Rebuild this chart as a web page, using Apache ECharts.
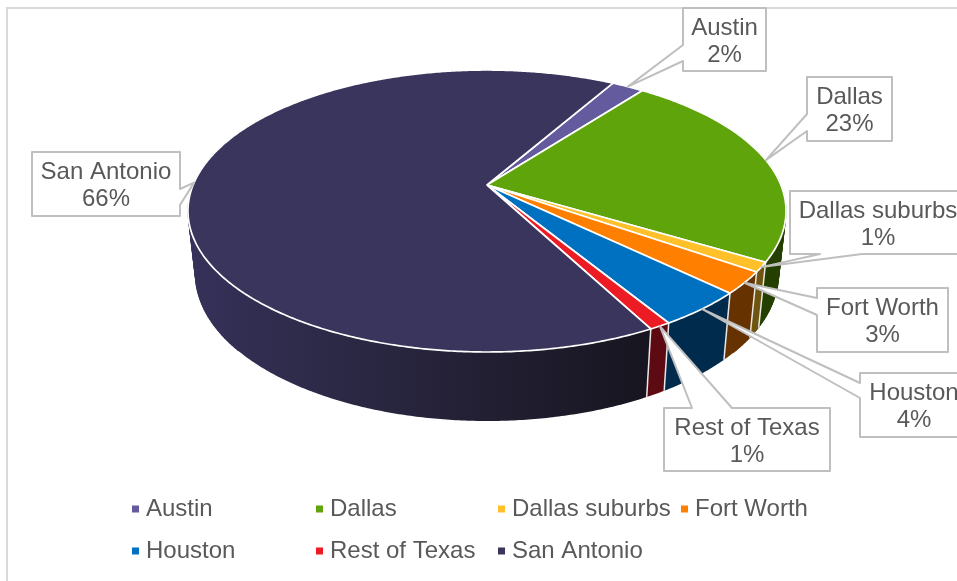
<!DOCTYPE html>
<html>
<head>
<meta charset="utf-8">
<title>Pie</title>
<script src="https://cdn.jsdelivr.net/npm/echarts@6/dist/echarts.min.js"></script>
<style>
html,body{margin:0;padding:0;background:#fff;}
#main{width:957px;height:581px;}
</style>
</head>
<body>
<div id="main"></div>
<script>
//values, the labels show them rounded
var names=["Austin","Dallas","Dallas suburbs","Fort Worth","Houston","Rest of Texas","San Antonio"];
var values=[2.1,23.2,1.1,2.5,4.1,1.0,66.0];
var topColors=["#645a9e","#5fa40a","#ffc02a","#ff8000","#0070c0","#ed1c24","#3a355c"];
var sideColors=["#2f2a4d","#254000","#6e5510","#663300","#002b4d","#5e0a12",null];

//first slice starts this many degrees clockwise from north
var startAngle=29.8;

//perspective of the disc
var cx=487,cy=185,rx=293.9,ry=136.2,persp=0.1844;
//bottom rim relative to the top rim
var bottomX=0.975,bottomY=1.04,frontTop=352,frontBottom=421;
//angle ranges where the wall folds round the edge of the disc
var foldRanges=[[60,130],[230,300]];

//callout boxes: x,y,w,h, side the pointer leaves from, notch start and end along it
var boxes=[
	[683,8,83,63,"left",37,53],
	[807,77,85,64,"left",37,54],
	[790,191,177,63,"bottom",30,72],
	[817,288,131,64,"left",10,27],
	[860,373,110,64,"left",10,25],
	[664,408,166,63,"top",28,68],
	[32,152,148,64,"right",37,53]
];

var total=values.reduce(function(a,b){return a+b;},0);

function rim(deg){
	var t=deg*Math.PI/180;
	var X=Math.sin(t),Y=-Math.cos(t);
	var w=1/(1-persp*Y);
	return [cx+rx*X*w,cy+ry*Y*w];
}
function rimBottom(deg){
	var p=rim(deg);
	return [cx+bottomX*(p[0]-cx),frontBottom+bottomY*(p[1]-frontTop)];
}
function arc(fn,a0,a1){
	var pts=[];
	var n=Math.max(2,Math.ceil((a1-a0)/0.5));
	for(var i=0;i<=n;i++){
		pts.push(fn(a0+(a1-a0)*i/n));
	}
	return pts;
}
function sliceStart(i){
	var s=0;
	for(var k=0;k<i;k++){s+=values[k];}
	return startAngle+s/total*360;
}

//box outline with the pointer going to the tip
function calloutPoints(b,tip){
	var x=b[0],y=b[1],w=b[2],h=b[3],side=b[4],n0=b[5],n1=b[6];
	var pts=[[x,y]];
	if(side=="top"){pts.push([x+n0,y],tip,[x+n1,y]);}
	pts.push([x+w,y]);
	if(side=="right"){pts.push([x+w,y+n0],tip,[x+w,y+n1]);}
	pts.push([x+w,y+h]);
	if(side=="bottom"){pts.push([x+n1,y+h],tip,[x+n0,y+h]);}
	pts.push([x,y+h]);
	if(side=="left"){pts.push([x,y+n1],tip,[x,y+n0]);}
	return pts;
}

function renderSlice(i){
	var a0=sliceStart(i);
	var a1=a0+values[i]/total*360;
	var topArc=arc(rim,a0,a1);
	var botArc=arc(rimBottom,a0,a1);
	var sideFill=sideColors[i];
	if(!sideFill){
		sideFill=new echarts.graphic.LinearGradient(188,0,650,0,[
			{offset:0,color:"#35315a"},
			{offset:0.35,color:"#2b2844"},
			{offset:1,color:"#17151f"}
		],true);
	}
	var children=[];
	//side wall
	children.push({
		type:"polygon",
		z2:1,
		shape:{points:topArc.concat(botArc.slice().reverse())},
		style:{fill:sideFill}
	});
	//small strips so the wall keeps its outline where it folds
	foldRanges.forEach(function(r){
		for(var d=Math.max(a0,r[0]);d<Math.min(a1,r[1]);d+=1){
			var e=Math.min(d+1,a1);
			children.push({
				type:"polygon",
				z2:1,
				shape:{points:[rim(d),rim(e),rimBottom(e),rimBottom(d)]},
				style:{fill:sideFill,stroke:sideFill,lineWidth:0.6}
			});
		}
	});
	//edge between two walls
	children.push({
		type:"line",
		z2:2,
		shape:{x1:topArc[0][0],y1:topArc[0][1],x2:botArc[0][0],y2:botArc[0][1]},
		style:{stroke:"#e8e8e8",lineWidth:1.5}
	});
	//top face
	children.push({
		type:"polygon",
		z2:3,
		shape:{points:[[cx,cy]].concat(topArc)},
		style:{fill:topColors[i],stroke:"#fff",lineWidth:1.7,lineJoin:"round"}
	});
	//callout
	var b=boxes[i];
	var tip=rim((a0+a1)/2);
	children.push({
		type:"polygon",
		z2:5,
		shape:{points:calloutPoints(b,tip)},
		style:{fill:"#fff",stroke:"#bfbfbf",lineWidth:2,lineJoin:"round"}
	});
	var textX=b[0]+b[2]/2;
	if(b[0]+b[2]>957){textX=names[i]=="Houston"?914:878;}
	children.push({
		type:"text",
		z2:6,
		style:{
			x:textX,
			y:b[1]+b[3]/2+2,
			text:names[i]+"\n"+Math.round(values[i]/total*100)+"%",
			fill:"#595959",
			font:"24px 'Liberation Sans', Arial, sans-serif",
			lineHeight:27,
			align:"center",
			verticalAlign:"middle"
		}
	});
	return {type:"group",children:children};
}

var series=[];
for(var i=0;i<names.length;i++){
	(function(i){
		series.push({
			type:"custom",
			name:names[i],
			coordinateSystem:"none",
			silent:true,
			animation:false,
			itemStyle:{color:topColors[i]},
			data:[[values[i]]],
			renderItem:function(){return renderSlice(i);}
		});
	})(i);
}

//legend: one block per entry so that the columns line up
var legendLeft=[132,316,498,681,132,316,498];
var legendTop=[497,497,497,497,539,539,539];
var legends=names.map(function(n,i){
	return {
		data:[n],
		left:legendLeft[i],
		top:legendTop[i],
		padding:0,
		itemWidth:7,
		itemHeight:7,
		icon:"rect",
		selectedMode:false,
		textStyle:{
			color:"#595959",
			fontSize:24,
			fontFamily:"'Liberation Sans', Arial, sans-serif",
			padding:[0,0,0,2]
		}
	};
});

var container=echarts.init(document.getElementById("main"));
var option={
	backgroundColor:"#fff",
	animation:false,
	legend:legends,
	graphic:[{
		type:"rect",
		z:-1,
		silent:true,
		shape:{x:7,y:8,width:1100,height:700},
		style:{fill:"none",stroke:"#d9d9d9",lineWidth:2}
	}],
	series:series
};
container.setOption(option,true);
</script>
</body>
</html>
